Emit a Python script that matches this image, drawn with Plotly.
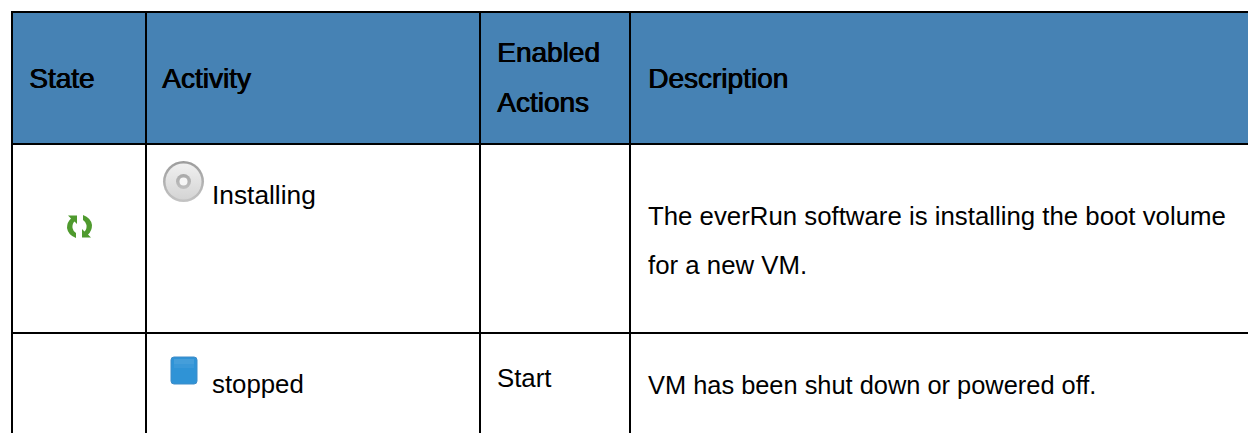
import plotly.graph_objects as go

# ---- table content ----
headers = ["State", "Activity", "Enabled<br>Actions", "Description"]
activities = ["Installing", "stopped"]
enabled_actions = ["", "Start"]
descriptions = [
    ["The everRun software is installing the boot volume", "for a new VM."],
    ["VM has been shut down or powered off."],
]

# ---- geometry (pixel scale of the axes) ----
W, H = 1248, 433
col_lines = [12, 146, 480, 630]
row_lines = [12, 144, 333]
BLACK = "#000000"
HEAD = "#4682b4"
FONT = "Liberation Sans"
HEAD_SIZE = 28
BODY_SIZE = 25.8

shapes = [dict(type="rect", x0=12, x1=W + 2, y0=12, y1=144, fillcolor=HEAD, line_width=0, layer="below")]
for x in col_lines:
    shapes.append(dict(type="line", x0=x, x1=x, y0=11, y1=H + 2, line=dict(color=BLACK, width=2)))
for y in row_lines:
    shapes.append(dict(type="line", x0=11, x1=W + 2, y0=y, y1=y, line=dict(color=BLACK, width=2)))

# refresh icon
GREEN = "#4f9a2e"
shapes += [
    dict(type="path", path="M 68 215.5 L 77 215.5 L 77 224 L 74.5 221.5 Q 72 224 72.5 228 Q 73 231 76 233 L 76 238 Q 68 235 67 228 Q 67 222 71 218.5 Z",
         fillcolor=GREEN, line_width=0),
    dict(type="path", path="M 91 237.5 L 82 237.5 L 82 229 L 84.5 231.5 Q 87 229 86.5 225 Q 86 222 83 220 L 83 215 Q 91 218 92 225 Q 92 231 88 234.5 Z",
         fillcolor=GREEN, line_width=0),
]
# stopped icon
shapes += [
    dict(type="path", path="M 174 357 L 194 357 Q 197 357 197 360 L 197 381 Q 197 384 194 384 L 174 384 Q 171 384 171 381 L 171 360 Q 171 357 174 357 Z",
         fillcolor="#2f93d6", line=dict(color="#3f8cc8", width=1)),
    dict(type="rect", x0=174, x1=194, y0=359, y1=364, fillcolor="#6fb4e2", line_width=0, opacity=0.35),
    dict(type="rect", x0=174, x1=194, y0=364, y1=368, fillcolor="#6fb4e2", line_width=0, opacity=0.18),
]

fig = go.Figure()

def text_trace(x, y, text, size, anchor="middle right", shadow="none"):
    fig.add_trace(go.Scatter(x=[x], y=[y], mode="text", text=[text], textposition=anchor,
                             textfont=dict(family=FONT, size=size, color="#000000", shadow=shadow),
                             hoverinfo="skip", showlegend=False))

# disc icon markers
disc_x, disc_y = 183.5, 181.5
for size, color, grad in [(41, "#9c9c9c", "#c4c4c4"), (36, "#f0f0f0", "#d4d4d4"), (15, "#a8a8a8", "#c0c0c0"), (8, "#f6f6f6", "#f6f6f6")]:
    fig.add_trace(go.Scatter(x=[disc_x], y=[disc_y], mode="markers",
                             marker=dict(size=size, color=color, line_width=0,
                                         gradient=dict(type="vertical", color=grad)),
                             hoverinfo="skip", showlegend=False))

HSHADOW = "0.7px 0 0 #000000, 0 0.3px 0 #000000"
text_trace(29, 78 + 3, headers[0], HEAD_SIZE, shadow=HSHADOW)
text_trace(162, 78 + 3, headers[1], HEAD_SIZE, shadow=HSHADOW)
for y, part in zip([55, 105], headers[2].split("<br>")):
    text_trace(497, y, part, HEAD_SIZE, shadow=HSHADOW)
text_trace(648, 78 + 3, headers[3], HEAD_SIZE, shadow=HSHADOW)

text_trace(212, 197, activities[0], 26.3)
text_trace(212, 387, activities[1], BODY_SIZE)
text_trace(497, 381, enabled_actions[1], BODY_SIZE)
for y, line in zip([219, 268], descriptions[0]):
    text_trace(648, y, line, BODY_SIZE)
text_trace(648, 388, descriptions[1][0], 25.4)

fig.update_layout(
    width=W, height=H, autosize=False,
    margin=dict(l=0, r=0, t=0, b=0),
    paper_bgcolor="#ffffff", plot_bgcolor="#ffffff",
    xaxis=dict(range=[0, W], visible=False, fixedrange=True),
    yaxis=dict(range=[H, 0], visible=False, fixedrange=True),
    shapes=shapes, showlegend=False,
)
fig.write_html("out.html", config={"displayModeBar": False},
               post_script="document.body.style.margin='0';document.body.style.overflow='hidden';")
